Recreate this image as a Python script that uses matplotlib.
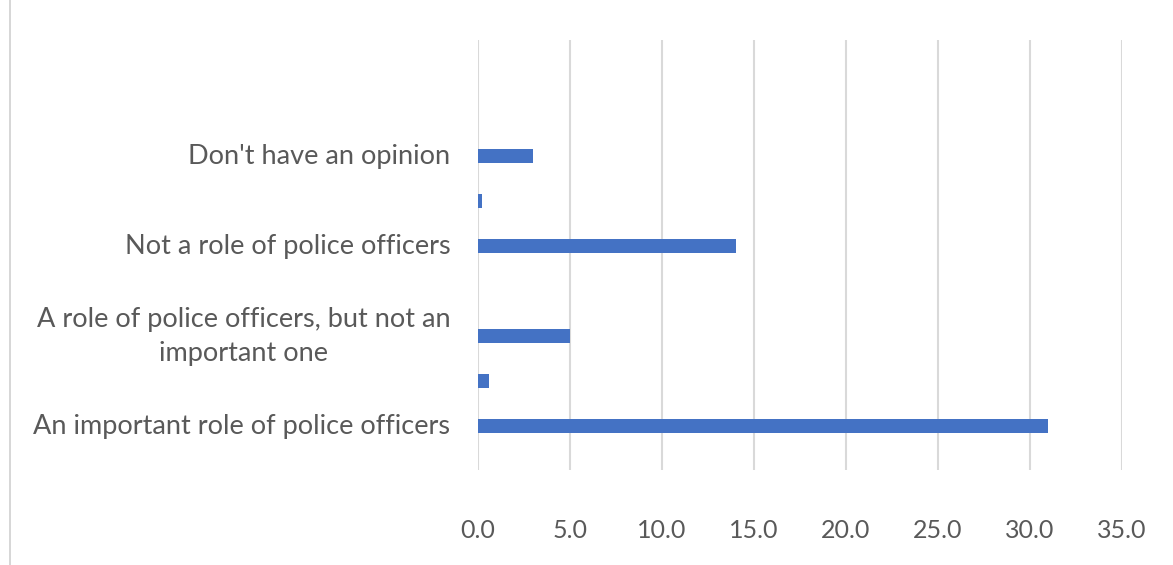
import numpy as np
import matplotlib.pyplot as plt
from matplotlib.lines import Line2D

# valeurs (du bas vers le haut)
labels = ["An important role of police officers", "",
          "A role of police officers, but not an\nimportant one", "",
          "Not a role of police officers", "",
          "Don't have an opinion"]
values = [31.0, 0.6, 5.0, 0.0, 14.0, 0.2, 3.0]
xticks = [0, 5, 10, 15, 20, 25, 30, 35]

plt.rcParams['font.family'] = ['Lato', 'DejaVu Sans']
txt_color = "#595959"

fig = plt.figure(figsize=(11.73, 5.65), dpi=100)
ax = fig.add_axes([0.4075, 0.168, 0.549, 0.761])

pos = np.arange(len(values))
ax.barh(pos, values, height=0.31, color="#4472C4", zorder=3)

ax.set_xlim(0, 35)
ax.set_ylim(-0.98, 8.58)
ax.set_xticks(xticks)
ax.set_xticklabels([f"{v:.1f}" for v in xticks])
ax.set_yticks(pos)
ax.set_yticklabels(labels, ha="right", va="center", multialignment="center",
                   linespacing=1.45)

ax.grid(axis="x", color="#D9D9D9", linewidth=1.5, zorder=0)
for s in ax.spines.values():
    s.set_visible(False)
ax.tick_params(axis="x", length=0, pad=35, labelsize=18, labelcolor=txt_color)
ax.tick_params(axis="y", length=0, pad=20, labelsize=19.5, labelcolor=txt_color)

# fine bordure à gauche
fig.add_artist(Line2D([10 / 1173, 10 / 1173], [0, 1], color="#D0D0D0", linewidth=1.2))

fig.savefig("out.png", dpi=100)
